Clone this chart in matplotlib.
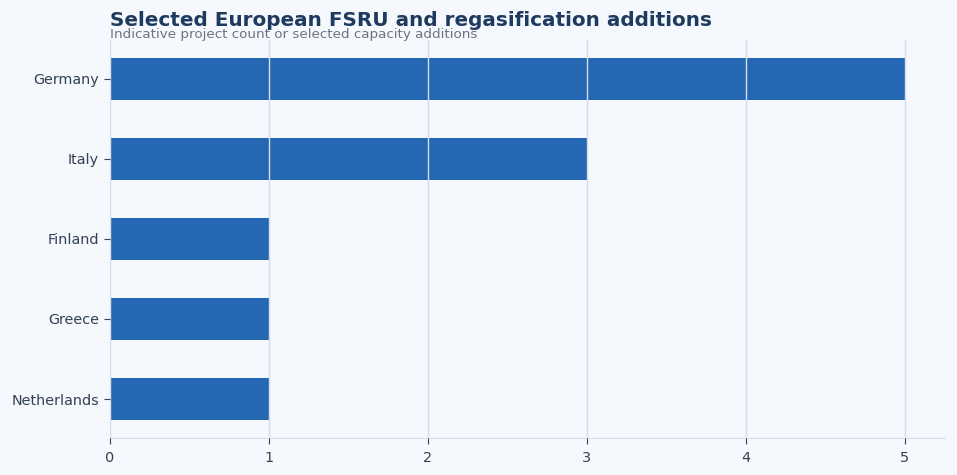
import matplotlib
matplotlib.use("Agg")
import matplotlib.pyplot as plt

plt.rcParams["font.family"] = ["DejaVu Sans"]

# Data
countries = ["Germany", "Italy", "Finland", "Greece", "Netherlands"]
additions = [5, 3, 1, 1, 1]

bg = "#f5f8fc"
bar_color = "#2468b4"
text_color = "#334155"
grid_color = "#d5deea"

fig, ax = plt.subplots(figsize=(9.57, 4.75), dpi=100)
fig.patch.set_facecolor(bg)
ax.set_facecolor(bg)

pos = list(range(len(countries)))[::-1]
ax.barh(pos, additions, height=0.52, color=bar_color, zorder=2)

ax.set_yticks(pos)
ax.set_yticklabels(countries)
ax.set_xticks([0, 1, 2, 3, 4, 5])

# grid sits on top of the bars in the original
ax.grid(axis="x", color=grid_color, linewidth=1, zorder=3)
ax.set_axisbelow(False)

for s in ["top", "right"]:
    ax.spines[s].set_visible(False)
for s in ["left", "bottom"]:
    ax.spines[s].set_color(grid_color)

ax.tick_params(axis="both", colors=text_color, labelsize=10.4)
ax.tick_params(axis="both", length=4.5, color=text_color)
ax.tick_params(axis="x", pad=5)

fig.subplots_adjust(left=0.115, right=0.987, top=0.916, bottom=0.078)

fig.text(0.115, 0.946, "Selected European FSRU and regasification additions",
         fontsize=14.4, fontweight="bold", color="#1e3a5f", va="baseline")
fig.text(0.115, 0.919, "Indicative project count or selected capacity additions",
         fontsize=9.7, color="#6b7485", va="baseline")

plt.savefig("out.png", dpi=100, facecolor=bg)
